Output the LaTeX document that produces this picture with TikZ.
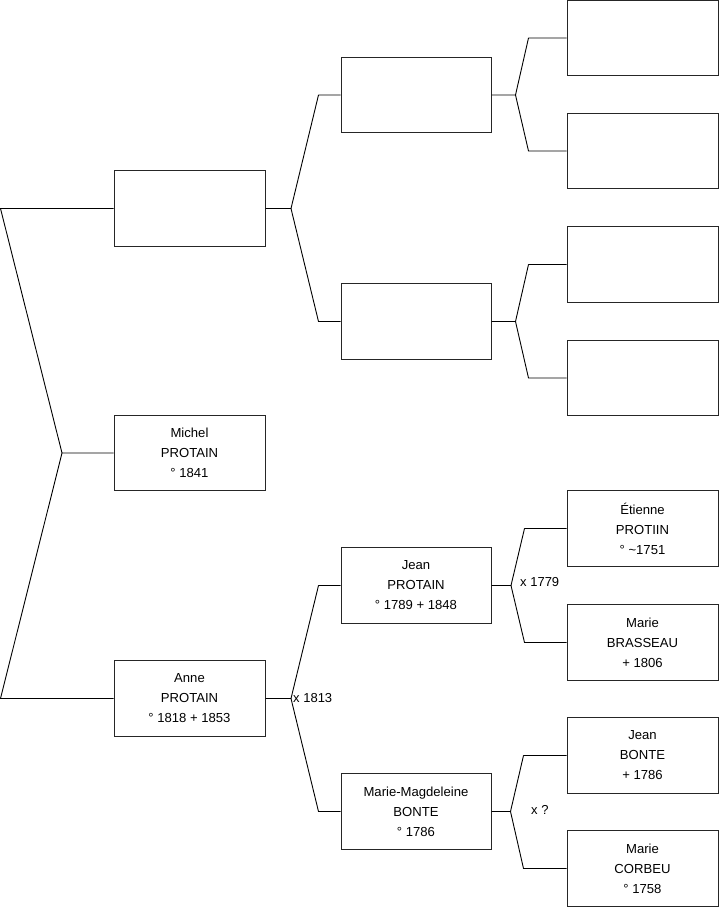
\documentclass[tikz,border=0pt]{standalone}
\usepackage{fontspec}
\setmainfont{Liberation Sans}
\begin{document}
\begin{tikzpicture}[x=1pt,y=-1pt,
  pbox/.style={draw=black!85,line width=1pt,rectangle,minimum width=151pt,minimum height=75.5pt,inner sep=0pt,align=center,font=\fontsize{13.1}{20}\selectfont},
  link/.style={draw=black,line width=0.9pt,line join=round},
  mlabel/.style={anchor=west,inner sep=0pt,font=\fontsize{13}{15}\selectfont}]
\useasboundingbox (0,0) rectangle (719,908);
% generation 1
\node[pbox] (g1a) at (189.5,208.5) {};
\node[pbox] (g1b) at (189.5,453) {Michel\\PROTAIN\\° 1841};
\node[pbox] (g1c) at (189.5,698.5) {Anne\\PROTAIN\\° 1818 + 1853};
% generation 2
\node[pbox,minimum width=150pt] (g2a) at (416,95) {};
\node[pbox,minimum width=150pt] (g2b) at (416,321.5) {};
\node[pbox,minimum width=150pt] (g2c) at (416,585.5) {Jean\\PROTAIN\\° 1789 + 1848};
\node[pbox,minimum width=150pt] (g2d) at (416,811.5) {Marie-Magdeleine\\BONTE\\° 1786};
% generation 3
\node[pbox] (g3a) at (642.5,38) {};
\node[pbox] (g3b) at (642.5,151) {};
\node[pbox] (g3c) at (642.5,264.5) {};
\node[pbox] (g3d) at (642.5,378) {};
\node[pbox] (g3e) at (642.5,528.5) {Étienne\\PROTIIN\\° \textasciitilde1751};
\node[pbox] (g3f) at (642.5,642.5) {Marie\\BRASSEAU\\+ 1806};
\node[pbox] (g3g) at (642.5,755.5) {Jean\\BONTE\\+ 1786};
\node[pbox] (g3h) at (642.5,868.5) {Marie\\CORBEU\\° 1758};
% left bracket
\coordinate (L1) at (0.5,208.5);
\coordinate (jL) at (62,453);
\coordinate (L3) at (0.5,698.5);
\draw[link] (g1a.west) -- (L1) -- (jL) -- (g1b.west);
\draw[link] (jL) -- (L3) -- (g1c.west);
% gen1 -> gen2
\coordinate (j1) at (291,208.5);
\draw[link] (g1a.east) -- (j1) -- ([xshift=-22pt]g2a.west) -- (g2a.west);
\draw[link] (j1) -- ([xshift=-22pt]g2b.west) -- (g2b.west);
\coordinate (j2) at (291,698.5);
\draw[link] (g1c.east) -- (j2) -- ([xshift=-22pt]g2c.west) -- (g2c.west);
\draw[link] (j2) -- ([xshift=-22pt]g2d.west) -- (g2d.west);
\node[mlabel] (m1) at (293,698) {x 1813};
% gen2 -> gen3
\coordinate (j3) at (515.5,95);
\draw[link] (g2a.east) -- (j3) -- ([xshift=-38pt]g3a.west) -- (g3a.west);
\draw[link] (j3) -- ([xshift=-38pt]g3b.west) -- (g3b.west);
\coordinate (j4) at (515.5,321.5);
\draw[link] (g2b.east) -- (j4) -- ([xshift=-38pt]g3c.west) -- (g3c.west);
\draw[link] (j4) -- ([xshift=-38pt]g3d.west) -- (g3d.west);
\coordinate (j5) at (511,585.5);
\draw[link] (g2c.east) -- (j5) -- ([xshift=-42pt]g3e.west) -- (g3e.west);
\draw[link] (j5) -- ([xshift=-42pt]g3f.west) -- (g3f.west);
\node[mlabel] (m2) at (520,582.5) {x 1779};
\coordinate (j6) at (510.5,811.5);
\draw[link] (g2d.east) -- (j6) -- ([xshift=-43pt]g3g.west) -- (g3g.west);
\draw[link] (j6) -- ([xshift=-43pt]g3h.west) -- (g3h.west);
\node[mlabel] (m3) at (531,809.5) {x ?};
\end{tikzpicture}
\end{document}
